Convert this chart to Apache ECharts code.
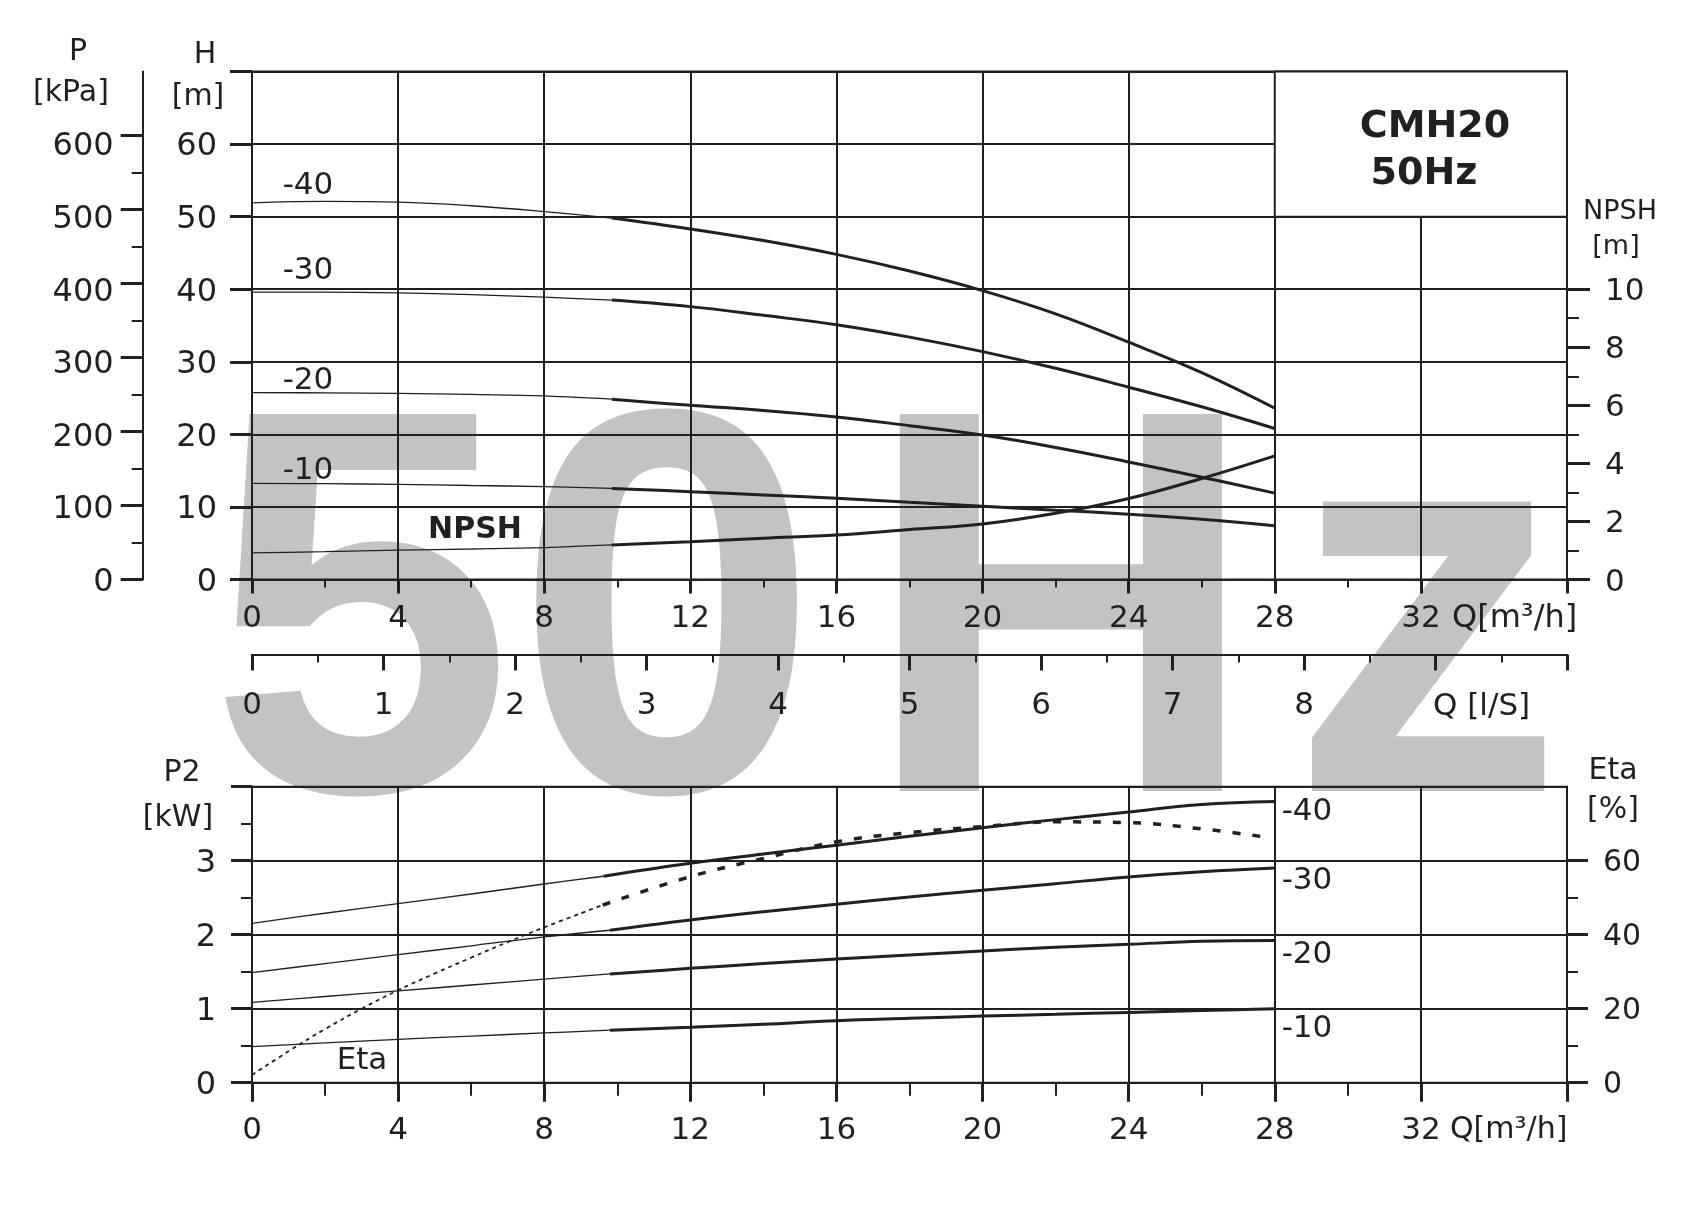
<!DOCTYPE html>
<html><head><meta charset="utf-8">
<script src="https://cdn.jsdelivr.net/npm/echarts@6/dist/echarts.min.js"></script>
<style>html,body{margin:0;padding:0;background:#fff}#c{width:1708px;height:1207px}</style>
</head><body><div id="c"></div>
<script>
// ---------- DATA ----------
// Upper chart: head H [m] vs Q [m3/h]; thin part (low flow) and thick part (working range)
const qHThin  = [0, 2, 4, 6, 8, 9.85];
const qHThick = [9.85, 12, 14, 16, 18, 20, 22, 24, 26, 28];
const h40Thin  = [51.9, 52.1, 52.0, 51.5, 50.7, 49.8];
const h40Thick = [49.8, 48.3, 46.7, 44.8, 42.5, 39.8, 36.6, 32.7, 28.5, 23.6];
const h30Thin  = [39.6, 39.6, 39.5, 39.25, 38.9, 38.5];
const h30Thick = [38.5, 37.6, 36.4, 35.1, 33.4, 31.4, 29.1, 26.5, 23.8, 20.8];
const h20Thin  = [25.75, 25.72, 25.65, 25.5, 25.3, 24.85];
const h20Thick = [24.85, 24.0, 23.3, 22.4, 21.2, 19.9, 18.2, 16.2, 14.1, 11.9];
const h10Thin  = [13.25, 13.2, 13.1, 12.95, 12.8, 12.55];
const h10Thick = [12.55, 12.1, 11.65, 11.2, 10.65, 10.1, 9.55, 9.0, 8.3, 7.4];
const npshThin  = [0.92, 0.96, 1.01, 1.05, 1.10, 1.19];
const npshThick = [1.19, 1.30, 1.42, 1.53, 1.72, 1.91, 2.28, 2.79, 3.48, 4.26];

// Lower chart: P2 [kW] and Eta [%] vs Q [m3/h]
const qP40Thin  = [0, 2, 4, 6, 8, 9.62];
const qP40Thick = [9.62, 12, 14, 16, 18, 20, 22, 24, 26, 28];
const qPThin    = [0, 2, 4, 6, 8, 9.8];
const qPThick   = [9.8, 12, 14, 16, 18, 20, 22, 24, 26, 28];
const p40Thin  = [2.154, 2.29, 2.42, 2.55, 2.685, 2.79];
const p40Thick = [2.79, 2.965, 3.09, 3.21, 3.33, 3.446, 3.555, 3.658, 3.76, 3.80];
const p30Thin  = [1.487, 1.61, 1.73, 1.85, 1.97, 2.06];
const p30Thick = [2.06, 2.20, 2.31, 2.41, 2.51, 2.60, 2.69, 2.78, 2.85, 2.90];
const p20Thin  = [1.086, 1.165, 1.24, 1.32, 1.40, 1.47];
const p20Thick = [1.47, 1.545, 1.61, 1.67, 1.725, 1.78, 1.83, 1.87, 1.91, 1.92];
const p10Thin  = [0.487, 0.537, 0.586, 0.63, 0.672, 0.71];
const p10Thick = [0.71, 0.748, 0.79, 0.838, 0.87, 0.90, 0.925, 0.95, 0.975, 1.0];
const qEtaThin  = [0, 1, 2, 3, 4, 5, 6, 7, 8, 9.6];
const etaThin   = [2.1, 8.5, 14.5, 20, 25, 29.5, 33.8, 38, 42, 48];
const qEtaThick = [9.6, 12, 14, 16, 18, 20, 22, 24, 26, 27.8];
const etaThick  = [48, 55.7, 60.6, 65.1, 67.6, 69.2, 70.5, 70.3, 68.6, 66.3];

// Tick values
const qMinorTicks   = [2, 6, 10, 14, 18, 22, 26, 30];
const pTicks        = [0, 100, 200, 300, 400, 500, 600];
const pMinorTicks   = [50, 150, 250, 350, 450, 550];
const npshTicks     = [0, 2, 4, 6, 8, 10];
const npshMinor     = [1, 3, 5, 7, 9];
const etaTicks      = [0, 20, 40, 60];
const etaMinor      = [10, 30, 50];
const stageLabels   = ['-40', '-30', '-20', '-10'];

// ---------- CHART ----------
const INK = '#231f20';
const FONT = 'DejaVu Sans';
const G = 9.81;            // kPa per metre of head
const chart = echarts.init(document.getElementById('c'));

function curve(xi, yi, qs, vs, width, type) {
  return {
    type: 'line', xAxisIndex: xi, yAxisIndex: yi,
    data: qs.map((q, i) => [q, vs[i]]),
    smooth: 0.4, symbol: 'none', silent: true, z: 3,
    lineStyle: { color: INK, width: width, type: type || 'solid', cap: 'butt' }
  };
}
const LINE = { show: true, onZero: false, lineStyle: { color: INK, width: 2 } };
function tickAxisX(grid, len, margin) {
  return {
    type: 'value', gridIndex: grid, min: 0, max: 36, interval: 4, position: 'bottom',
    axisLine: LINE,
    axisTick: { show: true, length: len, lineStyle: { color: INK, width: 3 } },
    axisLabel: { color: INK, fontSize: 31, fontFamily: FONT, margin: margin, formatter: v => (v === 36 ? '' : String(v)) },
    splitLine: { show: true, lineStyle: { color: INK, width: 2 } }
  };
}
function minorX(grid, len) {
  return {
    type: 'value', gridIndex: grid, min: 0, max: 36, position: 'bottom',
    axisLine: { show: false, onZero: false },
    axisTick: { show: true, length: len, customValues: qMinorTicks, lineStyle: { color: INK, width: 2 } },
    axisLabel: { show: false }, splitLine: { show: false }
  };
}
function minorY(grid, pos, offset, min, max, vals, len) {
  return {
    type: 'value', gridIndex: grid, position: pos, offset: offset, min: min, max: max,
    axisLine: { show: false, onZero: false },
    axisTick: { show: true, length: len, customValues: vals, lineStyle: { color: INK, width: 2 } },
    axisLabel: { show: false }, splitLine: { show: false }
  };
}
function yLab(size, margin, extra) {
  return Object.assign({ color: INK, fontSize: size, fontFamily: FONT, margin: margin,
                         verticalAlign: 'top', lineHeight: 6 }, extra || {});
}

function txt(text, x, y, size, align, weight, fill, z) {
  return {
    type: 'text', x: x, y: y, z: z === undefined ? 50 : z, silent: true,
    style: {
      text: text, fill: fill || INK, fontSize: size, fontFamily: FONT,
      fontWeight: weight || 'normal', textAlign: align || 'center', textVerticalAlign: 'middle'
    }
  };
}
function wm(ch, x) {
  return {
    type: 'text', x: x, y: 640, z: -10, silent: true,
    style: { text: ch, fill: '#c3c3c3', fontSize: 548, fontFamily: 'Liberation Sans',
             fontWeight: 'bold', textAlign: 'center', textVerticalAlign: 'middle' }
  };
}

const option = {
  backgroundColor: '#ffffff',
  animation: false,
  textStyle: { fontFamily: FONT, color: INK },
  grid: [
    { left: 252, top: 71.5, width: 1315, height: 508, show: true, borderColor: INK, borderWidth: 2 },
    { left: 252, top: 653.5, width: 1315, height: 1, show: false },
    { left: 252, top: 786.7, width: 1315, height: 296, show: true, borderColor: INK, borderWidth: 2 }
  ],
  xAxis: [
    tickAxisX(0, 14, 24),
    minorX(0, 8),
    {
      type: 'value', gridIndex: 1, min: 0, max: 10, interval: 1, position: 'bottom',
      axisLine: LINE,
      axisTick: { show: true, length: 16, lineStyle: { color: INK, width: 3 } },
      minorTick: { show: true, splitNumber: 2, length: 8, lineStyle: { color: INK, width: 2 } },
      axisLabel: { color: INK, fontSize: 31, fontFamily: FONT, margin: 36, formatter: v => (v <= 8 ? String(v) : '') },
      splitLine: { show: false }
    },
    tickAxisX(2, 19, 33),
    minorX(2, 13)
  ],
  yAxis: [
    { // 0: H
      type: 'value', gridIndex: 0, position: 'left', min: 0, max: 70, interval: 10,
      axisLine: LINE,
      axisTick: { show: true, length: 22, lineStyle: { color: INK, width: 3 } },
      axisLabel: yLab(32, 35, { formatter: v => (v === 70 ? '' : String(v)) }),
      splitLine: { show: true, lineStyle: { color: INK, width: 2 } }
    },
    { // 1: P kPa (labels sit level with the H labels, as in the original sheet)
      type: 'value', gridIndex: 0, position: 'left', offset: 109.3, min: 0, max: 70 * G, interval: 100,
      axisLine: LINE,
      axisTick: { show: true, length: 22, customValues: pTicks, lineStyle: { color: INK, width: 3 } },
      axisLabel: yLab(32, 29, { customValues: pTicks.map(v => v * G / 10),
                                formatter: v => String(Math.round(v * 10 / G)) }),
      splitLine: { show: false }
    },
    minorY(0, 'left', 109.3, 0, 70 * G, pMinorTicks, 11), // 2
    { // 3: NPSH
      type: 'value', gridIndex: 0, position: 'right', min: 0, max: 17.5, interval: 2,
      axisLine: LINE,
      axisTick: { show: true, length: 23, customValues: npshTicks, lineStyle: { color: INK, width: 3 } },
      axisLabel: yLab(31, 38, { customValues: npshTicks }),
      splitLine: { show: false }
    },
    minorY(0, 'right', 0, 0, 17.5, npshMinor, 12), // 4
    { type: 'value', gridIndex: 1, show: false, min: 0, max: 1 }, // 5
    { // 6: P2
      type: 'value', gridIndex: 2, position: 'left', min: 0, max: 4, interval: 1,
      axisLine: LINE,
      axisTick: { show: true, length: 21, lineStyle: { color: INK, width: 3 } },
      minorTick: { show: true, splitNumber: 2, length: 11, lineStyle: { color: INK, width: 2 } },
      axisLabel: yLab(32, 36, { formatter: v => (v === 4 ? '' : String(v)) }),
      splitLine: { show: true, lineStyle: { color: INK, width: 2 } }
    },
    { // 7: Eta
      type: 'value', gridIndex: 2, position: 'right', min: 0, max: 80, interval: 20,
      axisLine: LINE,
      axisTick: { show: true, length: 21, customValues: etaTicks, lineStyle: { color: INK, width: 3 } },
      axisLabel: yLab(30, 36, { customValues: etaTicks }),
      splitLine: { show: false }
    },
    minorY(2, 'right', 0, 0, 80, etaMinor, 11) // 8
  ],
  series: [
    Object.assign(curve(0, 0, qHThin, h40Thin, 1.3), {
      markArea: {
        silent: true,
        itemStyle: { color: '#ffffff', borderColor: INK, borderWidth: 2 },
        data: [[{ coord: [28, 50] }, { coord: [36, 70] }]]
      }
    }),
    curve(0, 0, qHThick, h40Thick, 3),
    curve(0, 0, qHThin, h30Thin, 1.3),
    curve(0, 0, qHThick, h30Thick, 3),
    curve(0, 0, qHThin, h20Thin, 1.3),
    curve(0, 0, qHThick, h20Thick, 3),
    curve(0, 0, qHThin, h10Thin, 1.3),
    curve(0, 0, qHThick, h10Thick, 3),
    curve(0, 3, qHThin, npshThin, 1.3),
    curve(0, 3, qHThick, npshThick, 3),
    curve(3, 6, qP40Thin, p40Thin, 1.3),
    curve(3, 6, qP40Thick, p40Thick, 3),
    curve(3, 6, qPThin, p30Thin, 1.3),
    curve(3, 6, qPThick, p30Thick, 3),
    curve(3, 6, qPThin, p20Thin, 1.3),
    curve(3, 6, qPThick, p20Thick, 3),
    curve(3, 6, qPThin, p10Thin, 1.3),
    curve(3, 6, qPThick, p10Thick, 3),
    curve(3, 7, qEtaThin, etaThin, 1.8, [4, 4]),
    curve(3, 7, qEtaThick, etaThick, 3.5, [8, 12])
  ],
  graphic: [
    // watermark
    wm('5', 361), wm('0', 667), wm('H', 1061), wm('z', 1427),
    // title
    txt('CMH20', 1435, 127, 38, 'center', 'bold', INK, 60),
    txt('50Hz', 1424, 174, 38, 'center', 'bold', INK, 60),
    // axis names
    txt('P', 78, 52, 30), txt('[kPa]', 71, 93, 30),
    txt('H', 205, 55, 30), txt('[m]', 198, 97, 30),
    txt('NPSH', 1620, 212, 27), txt('[m]', 1616, 247, 27),
    txt('Q[m³/h]', 1452, 619, 32, 'left'),
    txt('Q [l/S]', 1433, 707, 31, 'left'),
    txt('P2', 182, 773, 30), txt('[kW]', 178, 818, 30),
    txt('Eta', 1613, 771, 30), txt('[%]', 1613, 810, 30),
    txt('Q[m³/h]', 1450, 1130, 30, 'left'),
    // curve labels upper
    txt(stageLabels[0], 308, 186, 31), txt(stageLabels[1], 308, 271, 31),
    txt(stageLabels[2], 308, 381, 31), txt(stageLabels[3], 308, 471, 31),
    txt('NPSH', 475, 530, 30, 'center', 'bold'),
    // curve labels lower
    txt(stageLabels[0], 1307, 812, 31), txt(stageLabels[1], 1307, 881, 31),
    txt(stageLabels[2], 1307, 955, 31), txt(stageLabels[3], 1307, 1029, 31),
    txt('Eta', 362, 1061, 31)
  ]
};
chart.setOption(option);
</script></body></html>
